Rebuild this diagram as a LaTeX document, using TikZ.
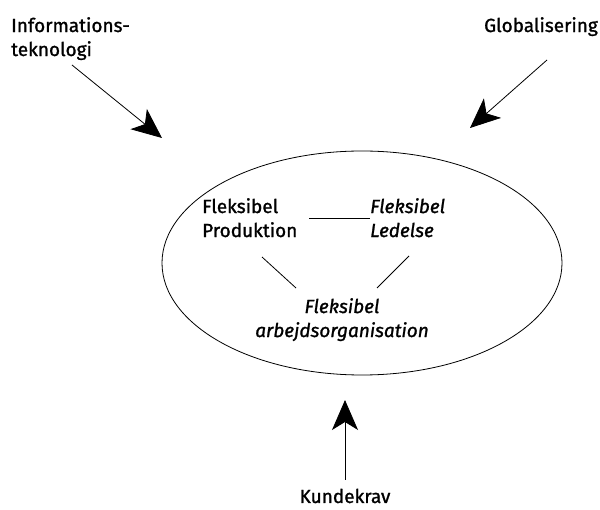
\documentclass[tikz,border=0pt]{standalone}
\usepackage{fontspec}
\setmainfont{Fira Sans}[FakeBold=1.2]
\usetikzlibrary{arrows.meta}
\begin{document}
\begin{tikzpicture}[x=1pt,y=-1pt,
  lbl/.style={font=\fontsize{19}{24}\selectfont, inner sep=0pt, align=left},
  ilbl/.style={lbl, font=\fontsize{19}{24}\selectfont\itshape},
  force/.style={line width=0.8pt, -{Stealth[length=30pt,width=26pt,inset=8pt]}},
  link/.style={line width=0.8pt}]
\useasboundingbox (0,0) rectangle (600,510);
% outer context
\draw[line width=0.8pt] (362,263) ellipse [x radius=200, y radius=112];
% forces acting on the enterprise
\node[lbl, anchor=north west] (it) at (11,17) {Informations-\\teknologi};
\node[lbl, anchor=north east] (glob) at (598,17) {Globalisering};
\node[lbl, anchor=base] (kunde) at (345,503) {Kundekrav};
\coordinate (itS) at (72,65);
\coordinate (itE) at (162,138);
\coordinate (glS) at (547,60);
\coordinate (glE) at (470,128);
\coordinate (kuS) at (345,480);
\coordinate (kuE) at (345,400);
\draw[force] (itS) -- (itE);
\draw[force] (glS) -- (glE);
\draw[force] (kuS) -- (kuE);
% inner triangle of flexibility
\node[lbl, anchor=north west] (prod) at (202,198) {Fleksibel\\Produktion};
\node[ilbl, anchor=north west] (led) at (370,198) {Fleksibel\\Ledelse};
\node[ilbl, anchor=north, align=center] (arb) at (342,298) {Fleksibel\\arbejdsorganisation};
\coordinate (a1) at (309,218); \coordinate (a2) at (370,218);
\coordinate (b1) at (262,257); \coordinate (b2) at (296,288);
\coordinate (c1) at (409,256); \coordinate (c2) at (377,288);
\draw[link] (a1) -- (a2);
\draw[link] (b1) -- (b2);
\draw[link] (c1) -- (c2);
\end{tikzpicture}
\end{document}
